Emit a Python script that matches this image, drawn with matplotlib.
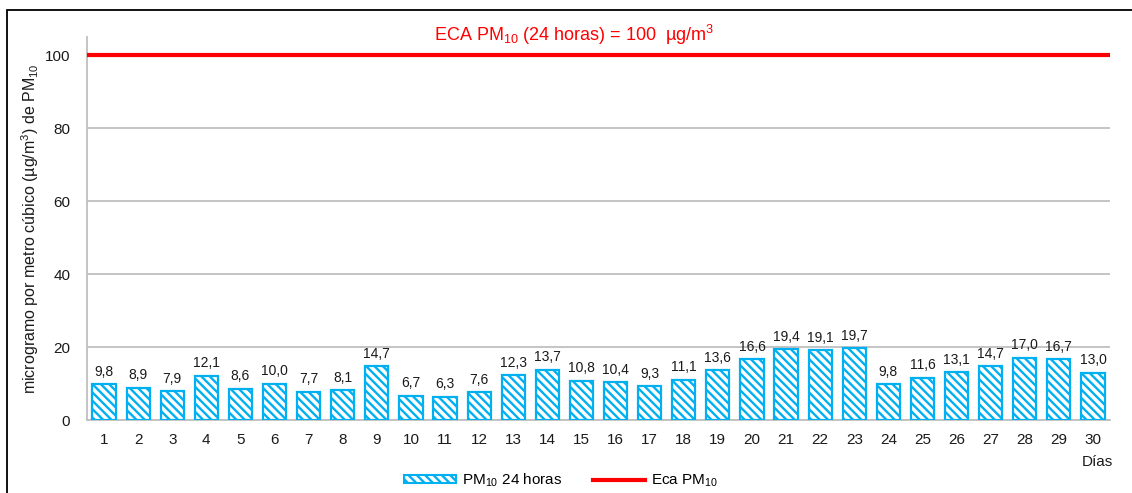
import matplotlib
matplotlib.use("Agg")
import matplotlib.pyplot as plt
from matplotlib.patches import Rectangle, Patch
from matplotlib.lines import Line2D

plt.rcParams['font.family'] = ['Liberation Sans', 'DejaVu Sans']
plt.rcParams['mathtext.fontset'] = 'custom'
plt.rcParams['mathtext.rm'] = 'Liberation Sans'
plt.rcParams['mathtext.it'] = 'Liberation Sans'
plt.rcParams['hatch.linewidth'] = 1.7

days = list(range(1, 31))
pm10 = [9.8, 8.9, 7.9, 12.1, 8.6, 10.0, 7.7, 8.1, 14.7, 6.7,
        6.3, 7.6, 12.3, 13.7, 10.8, 10.4, 9.3, 11.1, 13.6, 16.6,
        19.4, 19.1, 19.7, 9.8, 11.6, 13.1, 14.7, 17.0, 16.7, 13.0]
eca_limit = 100
yticks = [0, 20, 40, 60, 80, 100]

blue = '#00B0F0'
red = '#FF0000'
grid_c = '#BFBFBF'
txt = '#1a1a1a'
hatch = '\\\\\\\\'

fig = plt.figure(figsize=(11.32, 4.93), dpi=100)
ax = fig.add_axes([87/1132, 1-420/493, (1110-87)/1132, (420-37)/493])

ax.bar(days, pm10, width=0.68, color='white', edgecolor=blue,
       hatch=hatch, linewidth=1.6, zorder=3)
for d, v in zip(days, pm10):
    ax.annotate(f"{v:.1f}".replace('.', ','), (d, v), xytext=(0, 4),
                textcoords='offset points', ha='center', va='bottom',
                fontsize=10, color=txt)

ax.axhline(eca_limit, color=red, linewidth=3, zorder=4)

ax.set_xlim(0.5, 30.5)
ax.set_ylim(0, 105)
ax.set_yticks(yticks)
ax.set_xticks(days)
ax.tick_params(axis='both', length=0, labelsize=11, colors=txt)
ax.tick_params(axis='x', pad=9)
ax.tick_params(axis='y', pad=12)
ax.grid(axis='y', color=grid_c, linewidth=1.3, zorder=0)
for s in ['top', 'right']:
    ax.spines[s].set_visible(False)
for s in ['left', 'bottom']:
    ax.spines[s].set_color(grid_c)
    ax.spines[s].set_linewidth(1.3)

ax.set_ylabel(r"microgramo por metro cúbico (µg/m$^3$) de PM$_{10}$",
              fontsize=11.5, color=txt, labelpad=3)

fig.text(574/1132, 1-35/493, r"ECA PM$_{10}$ (24 horas) = 100  µg/m$^3$",
         color=red, fontsize=13, ha='center', va='center')
fig.text(1097/1132, 1-462/493, "Días", fontsize=11, ha='center', va='center',
         color=txt)

handles = [Patch(facecolor='white', edgecolor=blue, hatch=hatch, linewidth=1.5),
           Line2D([0], [0], color=red, linewidth=3)]
labels = [r"PM$_{10}$ 24 horas", r"Eca PM$_{10}$"]
fig.legend(handles, labels, loc='center', bbox_to_anchor=(561/1132, 1-480/493),
           ncol=2, frameon=False, fontsize=11, handlelength=3.4,
           handleheight=0.45, columnspacing=2.0, handletextpad=0.4)

fig.add_artist(Rectangle((7/1132, -0.1), 1.2, 1-10/493+0.1,
                         transform=fig.transFigure, fill=False,
                         edgecolor='black', linewidth=1.3))

fig.savefig('out.png', dpi=100)
